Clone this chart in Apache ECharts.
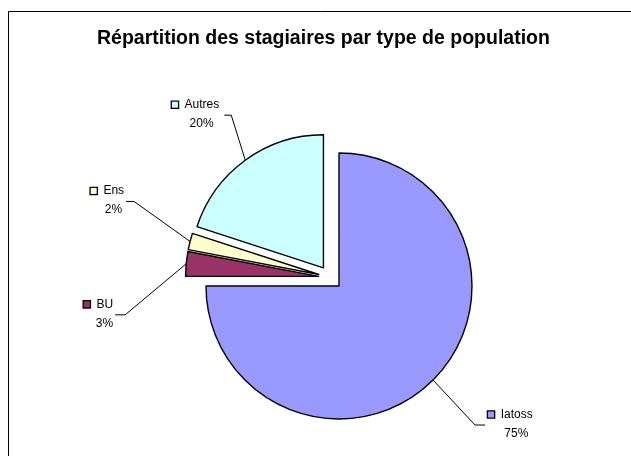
<!DOCTYPE html>
<html><head><meta charset="utf-8">
<script src="https://cdn.jsdelivr.net/npm/echarts@6/dist/echarts.min.js"></script>
<style>html,body{margin:0;padding:0;background:#fff}#c{width:631px;height:456px}</style>
</head><body><div id="c"></div>
<script>
const categories = ['Iatoss', 'BU', 'Ens', 'Autres'];
const values = [75, 3, 2, 20];
const colors = ['#9999FF', '#993366', '#FFFFCC', '#CCFFFF'];
const titleText = 'Répartition des stagiaires par type de population';

// leader-line styling: elbow offset from the slice edge anchor, then a short horizontal tail
const elbowOffsets = [[42, 45], [-61, 51], [-56, -40], [-14, -45]];
const tailLengths = [10, -10, -8, -7];
const labelGaps = [3, 2, 2, 5];

const pieCenter = [330.5, 277.5];
const pieRadius = 133;
const explode = 12;

const chart = echarts.init(document.getElementById('c'), null, {renderer: 'canvas'});
const FONT = 'Liberation Sans';
const rich = {
  pct: {fontSize: 12, fontFamily: FONT, color: '#000', lineHeight: 19, align: 'center', padding: [0, 0, 0, 12]},
  nm: {fontSize: 12, fontFamily: FONT, color: '#000', lineHeight: 19, align: 'center'}
};
colors.forEach((c, i) => {
  rich['box' + i] = {width: 6, height: 6, backgroundColor: c, borderColor: '#000', borderWidth: 1.3, align: 'center'};
});
const sliceData = categories.map((n, i) => ({
  name: n, value: values[i], selected: true,
  itemStyle: {color: colors[i]}
}));
const labelData = categories.map((n, i) => ({name: n, value: values[i]}));

chart.setOption({
  animation: false,
  backgroundColor: '#fff',
  title: {
    text: titleText, left: 97, top: 29, padding: 0,
    textStyle: {fontSize: 19.5, fontWeight: 'bold', fontFamily: FONT, color: '#000'}
  },
  graphic: [{type: 'rect', shape: {x: 8.5, y: 11.5, width: 700, height: 500}, style: {fill: null, stroke: '#000', lineWidth: 1}, silent: true, z: 100}],
  series: [{
    type: 'pie',
    center: pieCenter,
    radius: pieRadius,
    startAngle: 90,
    clockwise: true,
    selectedMode: 'multiple',
    selectedOffset: explode,
    silent: true,
    itemStyle: {borderColor: '#000', borderWidth: 1.4},
    emphasis: {disabled: true},
    label: {show: false},
    labelLine: {show: false},
    data: sliceData
  }, {
    // same slices, invisible, used only to carry the labels and leader lines
    type: 'pie',
    center: pieCenter,
    radius: pieRadius,
    startAngle: 90,
    clockwise: true,
    selectedMode: false,
    silent: true,
    avoidLabelOverlap: false,
    itemStyle: {color: 'rgba(0,0,0,0)', borderWidth: 0},
    emphasis: {disabled: true},
    label: {
      show: true, position: 'outside',
      formatter: p => '{box' + p.dataIndex + '|}{nm|  ' + p.name + '}\n{pct|' + Math.round(p.percent) + '%}',
      rich: rich
    },
    labelLine: {show: true, length: 20, length2: 8, lineStyle: {color: '#000', width: 1}},
    labelLayout: function (params) {
      const i = params.dataIndex;
      const p = params.labelLinePoints[0];
      const vx = p[0] - pieCenter[0], vy = p[1] - pieCenter[1];
      const n = Math.sqrt(vx * vx + vy * vy) || 1;
      const p0 = [p[0] + vx / n * explode, p[1] + vy / n * explode];
      const e = [p0[0] + elbowOffsets[i][0], p0[1] + elbowOffsets[i][1]];
      const t = [e[0] + tailLengths[i], e[1]];
      const right = tailLengths[i] > 0;
      return {
        x: t[0] + (right ? labelGaps[i] : -labelGaps[i]), y: t[1] - 1,
        align: right ? 'left' : 'right', verticalAlign: 'middle',
        labelLinePoints: [p0, e, t]
      };
    },
    data: labelData
  }]
});
</script></body></html>
